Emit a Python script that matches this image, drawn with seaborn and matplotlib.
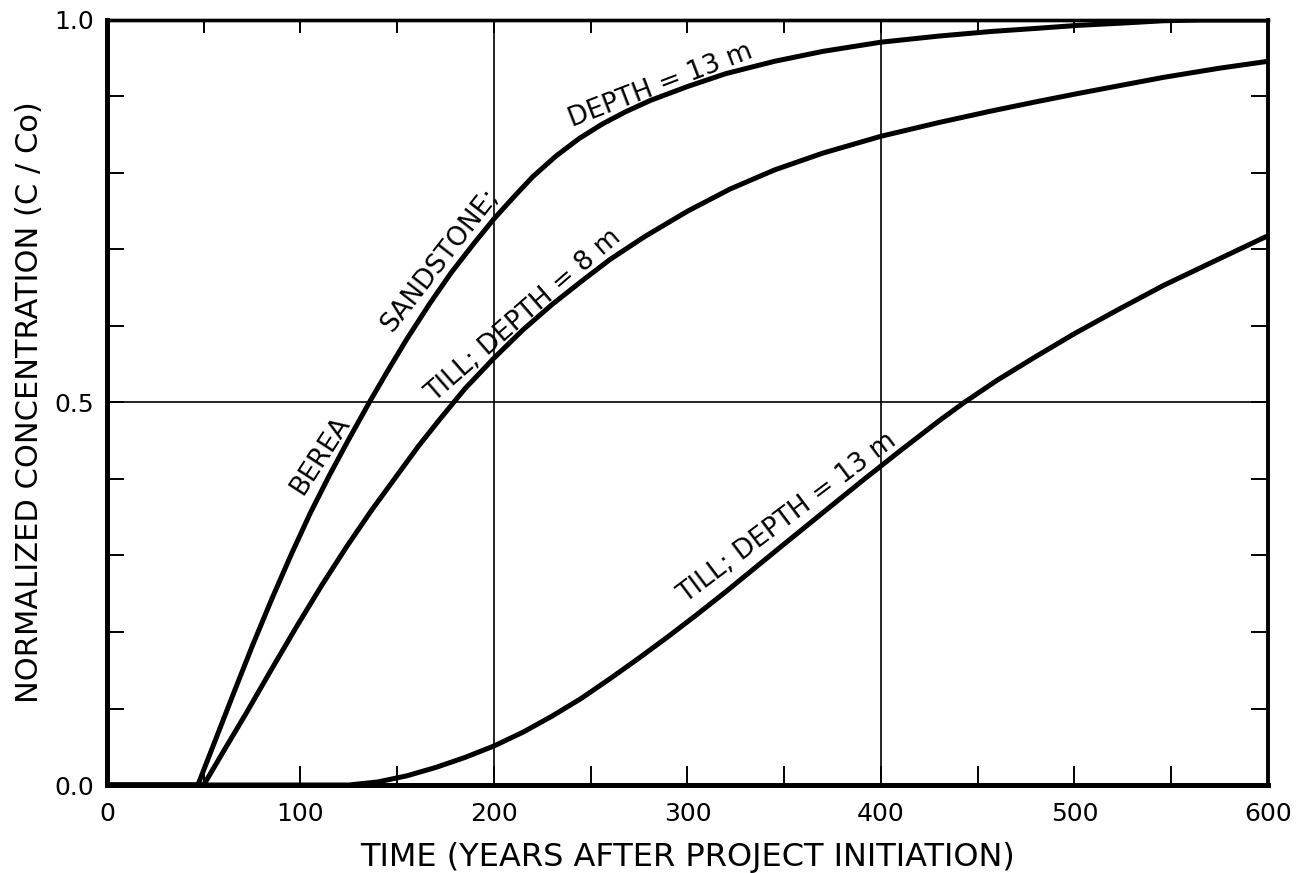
import numpy as np
import pandas as pd
import matplotlib
matplotlib.use("Agg")
import matplotlib.pyplot as plt
from matplotlib.ticker import MultipleLocator, FixedLocator, NullFormatter
import seaborn as sns

# ---- data ----
berea_x = [0, 47, 55, 65, 75, 85, 95, 105, 115, 125, 136, 145, 155, 167, 178, 190,
           200, 210, 220, 232, 244, 256, 268, 281, 300, 320, 345, 370, 400, 430,
           457, 480, 502, 525, 546, 565, 600]
berea_y = [0, 0, 0.052, 0.117, 0.181, 0.242, 0.300, 0.355, 0.405, 0.452, 0.502,
           0.541, 0.583, 0.630, 0.670, 0.709, 0.740, 0.768, 0.795, 0.822, 0.845,
           0.864, 0.880, 0.895, 0.913, 0.930, 0.946, 0.959, 0.971, 0.979, 0.985,
           0.989, 0.993, 0.996, 0.999, 1.0, 1.0]

till8_x = [0, 50, 60, 72, 85, 98, 111, 124, 137, 150, 161, 172, 185, 200, 215, 230,
           245, 260, 278, 300, 322, 345, 370, 400, 430, 457, 480, 502, 525, 546,
           575, 600]
till8_y = [0, 0, 0.043, 0.094, 0.151, 0.207, 0.261, 0.312, 0.360, 0.405, 0.443,
           0.478, 0.518, 0.558, 0.595, 0.628, 0.658, 0.687, 0.717, 0.750, 0.779,
           0.804, 0.826, 0.848, 0.866, 0.881, 0.893, 0.904, 0.915, 0.925, 0.937,
           0.946]

till13_x = [0, 125, 140, 155, 170, 185, 200, 215, 230, 245, 260, 275, 290, 305, 320,
            335, 350, 370, 390, 410, 430, 443, 460, 480, 500, 523, 546, 575, 600]
till13_y = [0, 0, 0.004, 0.012, 0.023, 0.036, 0.051, 0.069, 0.090, 0.113, 0.139,
            0.166, 0.194, 0.223, 0.253, 0.284, 0.315, 0.356, 0.397, 0.437, 0.476,
            0.500, 0.529, 0.560, 0.590, 0.622, 0.653, 0.688, 0.718]

x_ticklabels = ["0", "100", "200", "300", "400", "500", "600"]
y_ticklabels = ["0.0", "0.5", "1.0"]
x_label = "TIME (YEARS AFTER PROJECT INITIATION)"
y_label = "NORMALIZED CONCENTRATION (C / Co)"

df = pd.concat([
    pd.DataFrame({"t": berea_x, "c": berea_y, "series": "berea13"}),
    pd.DataFrame({"t": till8_x, "c": till8_y, "series": "till8"}),
    pd.DataFrame({"t": till13_x, "c": till13_y, "series": "till13"}),
])

sns.set_style("ticks")
plt.rcParams["font.family"] = ["DejaVu Sans"]
plt.rcParams["text.color"] = "black"
plt.rcParams["axes.labelcolor"] = "black"
plt.rcParams["xtick.color"] = "black"
plt.rcParams["ytick.color"] = "black"
plt.rcParams["xtick.labelcolor"] = "black"
plt.rcParams["ytick.labelcolor"] = "black"

fig = plt.figure(figsize=(13.01, 8.73), dpi=100)
ax = fig.add_axes([0.0822, 0.1008, 0.8924, 0.8763])

sns.lineplot(data=df, x="t", y="c", hue="series", units="series", estimator=None,
             palette={"berea13": "black", "till8": "black", "till13": "black"},
             linewidth=3.6, legend=False, ax=ax, sort=False)
for ln in ax.lines:
    ln.set_solid_joinstyle("round")
    ln.set_solid_capstyle("round")

ax.set_xlim(0, 600)
ax.set_ylim(0, 1.0)

# grid lines at 200, 400 years and 0.5
for gx in [200, 400]:
    ax.axvline(gx, color="black", lw=1.2, zorder=1)
ax.axhline(0.5, color="black", lw=1.2, zorder=1)

# ticks
ax.xaxis.set_major_locator(FixedLocator([0, 100, 200, 300, 400, 500, 600]))
ax.xaxis.set_minor_locator(MultipleLocator(50))
ax.yaxis.set_major_locator(FixedLocator([0, 0.5, 1.0]))
ax.yaxis.set_minor_locator(MultipleLocator(0.1))
ax.set_xticklabels(x_ticklabels)
ax.set_yticklabels(y_ticklabels)

ax.tick_params(which="both", direction="in", top=False, right=True, color="black",
               labelcolor="black", width=1.4)
ax.tick_params(axis="x", which="both", length=14, pad=12, labelsize=18)
ax.tick_params(axis="y", which="both", length=12, pad=9, labelsize=18)

# shorter ticks along the top edge
top = ax.secondary_xaxis("top")
top.xaxis.set_major_locator(MultipleLocator(50))
top.xaxis.set_major_formatter(NullFormatter())
top.tick_params(direction="in", length=9, width=1.4, color="black")
top.spines["top"].set_linewidth(2.4)
top.spines["top"].set_color("black")

for side, lw in [("left", 3.6), ("bottom", 3.6), ("top", 2.4), ("right", 2.8)]:
    ax.spines[side].set_visible(True)
    ax.spines[side].set_linewidth(lw)
    ax.spines[side].set_color("black")

ax.set_xlabel(x_label, fontsize=23, labelpad=12, color="black")
ax.set_ylabel(y_label, fontsize=22, labelpad=8, color="black")

# curve annotations: anchored on the curve, shifted perpendicular (points)
def curve_label(text, x, y, angle, dist):
    th = np.deg2rad(angle)
    ax.annotate(text, xy=(x, y), xytext=(-dist * np.sin(th), dist * np.cos(th)),
                textcoords="offset points", rotation=angle, rotation_mode="anchor",
                ha="center", va="center", fontsize=19, color="black")

curve_label("BEREA", 118, 0.418, 57, 13)
curve_label("SANDSTONE;", 179, 0.672, 52, 12.5)
curve_label("DEPTH = 13 m", 288, 0.902, 21, 7.5)
curve_label("TILL; DEPTH = 8 m", 221, 0.598, 41, 11.5)
curve_label("TILL; DEPTH = 13 m", 357, 0.330, 37, 13)

fig.savefig("out.png", dpi=100, facecolor="white")
